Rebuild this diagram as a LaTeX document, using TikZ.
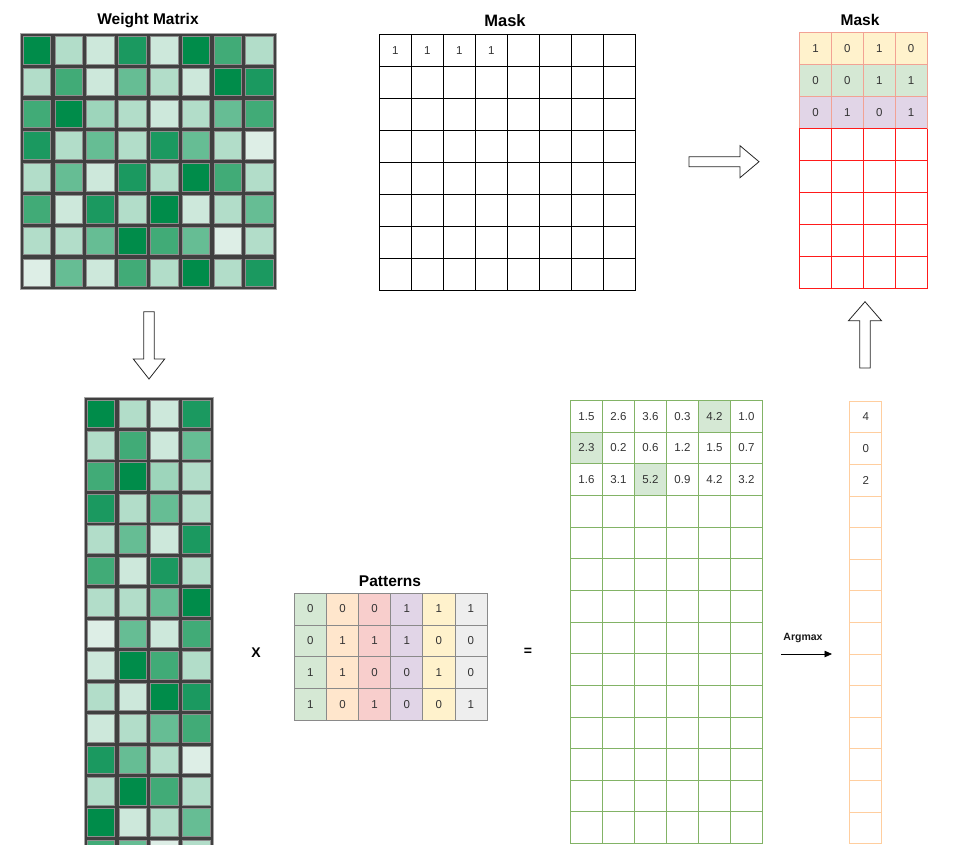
\documentclass[tikz,border=0pt]{standalone}
\usepackage{fontspec}
\setmainfont{Liberation Sans}
\usetikzlibrary{arrows.meta}
\definecolor{ga}{HTML}{008C4A}
\definecolor{gb}{HTML}{1B9960}
\definecolor{gc}{HTML}{41AB77}
\definecolor{gd}{HTML}{66BD94}
\definecolor{ge}{HTML}{9DD5BB}
\definecolor{gf}{HTML}{B2DDC9}
\definecolor{gg}{HTML}{CDE8DB}
\definecolor{gh}{HTML}{DDEEE6}
\definecolor{wdark}{HTML}{404040}
\definecolor{wedge}{HTML}{8E8E8E}
\definecolor{txt}{HTML}{333333}
\definecolor{mky}{HTML}{FFF2CC}
\definecolor{mkg}{HTML}{D5E8D4}
\definecolor{mkp}{HTML}{E1D5E7}
\definecolor{mkline}{HTML}{F2A294}
\definecolor{mkred}{HTML}{FF1A1A}
\definecolor{grline}{HTML}{82B366}
\definecolor{hl}{HTML}{D5E8D4}
\definecolor{orline}{HTML}{FFCE9F}
\definecolor{pline}{HTML}{8A8A8A}
\definecolor{pc0}{HTML}{D5E8D4}
\definecolor{pc1}{HTML}{FFE6CC}
\definecolor{pc2}{HTML}{F8CECC}
\definecolor{pc3}{HTML}{E1D5E7}
\definecolor{pc4}{HTML}{FFF2CC}
\definecolor{pc5}{HTML}{EEEEEE}
\begin{document}
\begin{tikzpicture}[x=1pt,y=-1pt,
  every node/.style={font={\fontsize{11.5}{13}\selectfont}, text=txt},
  titlelbl/.style={font={\fontsize{15.5}{18}\selectfont\bfseries}, text=black},
  wcell/.style={draw=wedge, line width=0.7pt, inner sep=0, minimum size=27.6pt},
  mcell/.style={draw=black, line width=0.7pt, inner sep=0, minimum width=32pt, minimum height=32pt, anchor=north west},
  rcell/.style={draw=mkline, line width=0.8pt, inner sep=0, minimum width=31.8pt, minimum height=32pt, anchor=north west},
  rcellr/.style={draw=mkred, line width=0.8pt, inner sep=0, minimum width=31.8pt, minimum height=32pt, anchor=north west},
  pcell/.style={draw=pline, line width=0.7pt, inner sep=0, minimum width=32.1pt, minimum height=31.8pt, anchor=north west},
  gcell/.style={draw=grline, line width=0.9pt, inner sep=0, minimum width=32pt, minimum height=31.65pt, anchor=north west},
  ocell/.style={draw=orline, line width=0.9pt, inner sep=0, minimum width=32pt, minimum height=31.6pt, anchor=north west},
  blockarrow/.style={draw=black!85, line width=0.8pt, fill=white, line join=miter},
]
\useasboundingbox (0,0) rectangle (965,844);
\clip (0,0) rectangle (965,844);

% ---------------- Weight matrix ----------------
\node[titlelbl] (wtitle) at (148,21) {Weight Matrix};
\fill[wdark] (20.5,33.8) rectangle ++(255.4,255.4);
\draw[black!35, line width=0.5pt] (20.2,33.5) rectangle ++(256,256);
\foreach \row [count=\i from 0] in {{a,f,g,b,g,a,c,f},{f,c,g,d,f,g,a,b},{c,a,e,f,g,f,d,c},{b,f,d,f,b,d,f,h},{f,d,g,b,f,a,c,f},{c,g,b,f,a,g,f,d},{f,f,d,a,c,d,h,f},{h,d,g,c,f,a,f,b}}{
  \foreach \c [count=\j from 0] in \row {
    \node[wcell, fill=g\c] (w-\i-\j) at ({21+31.8*\j+15.9},{34.3+31.8*\i+15.9}) {};
  }
}

% ---------------- Down arrow ----------------
\draw[blockarrow] (143.8,311.7) -- (154.2,311.7) -- (154.2,359) -- (164.7,359) -- (149,379) -- (133.3,359) -- (143.8,359) -- cycle;

% ---------------- Tall matrix ----------------
\fill[wdark] (84.5,397.5) rectangle ++(128,503);
\draw[black!35, line width=0.5pt] (84.2,397.2) rectangle ++(128.6,504);
\foreach \row [count=\i from 0] in {{a,f,g,b},{f,c,g,d},{c,a,e,f},{b,f,d,f},{f,d,g,b},{c,g,b,f},{f,f,d,a},{h,d,g,c},{g,a,c,f},{f,g,a,b},{g,f,d,c},{b,d,f,h},{f,a,c,f},{a,g,f,d},{c,d,h,f},{f,a,f,b}}{
  \foreach \c [count=\j from 0] in \row {
    \node[wcell, fill=g\c] (t-\i-\j) at ({85+31.8*\j+15.9},{398+31.45*\i+15.7}) {};
  }
}

% ---------------- Top mask ----------------
\node[titlelbl, font={\fontsize{16.5}{19}\selectfont\bfseries}] (mtitle) at (505,21) {Mask};
\foreach \i in {0,...,7}{
  \foreach \j in {0,...,7}{
    \node[mcell] (tm-\i-\j) at ({379+32*\j},{34+32*\i}) {\ifnum\i=0 \ifnum\j<4 1\fi\fi};
  }
}

% ---------------- Right arrow ----------------
\draw[blockarrow] (689,156.7) -- (740,156.7) -- (740,145.7) -- (759,161.7) -- (740,177.7) -- (740,166.7) -- (689,166.7) -- cycle;

% ---------------- Right mask ----------------
\node[titlelbl] (rtitle) at (860,20) {Mask};
\foreach \i in {3,...,7}{
  \foreach \j in {0,...,3}{
    \node[rcellr] (rm-\i-\j) at ({799.3+31.8*\j},{32.3+32*\i}) {};
  }
}
\foreach \v [count=\j from 0] in {1,0,1,0}
  \node[rcell, fill=mky] (rm-0-\j) at ({799.3+31.8*\j},32.3) {\v};
\foreach \v [count=\j from 0] in {0,0,1,1}
  \node[rcell, fill=mkg] (rm-1-\j) at ({799.3+31.8*\j},64.3) {\v};
\foreach \v [count=\j from 0] in {0,1,0,1}
  \node[rcell, fill=mkp] (rm-2-\j) at ({799.3+31.8*\j},96.3) {\v};
\draw[mkred, line width=0.8pt] (799.3,128.3) -- (926.5,128.3);

% ---------------- Up arrow ----------------
\draw[blockarrow] (859.8,368) -- (870.2,368) -- (870.2,320.7) -- (881.5,320.7) -- (865,301.7) -- (848.5,320.7) -- (859.8,320.7) -- cycle;

% ---------------- Patterns ----------------
\node[titlelbl] (ptitle) at (390,581) {Patterns};
\foreach \row [count=\i from 0] in {{0,0,0,1,1,1},{0,1,1,1,0,0},{1,1,0,0,1,0},{1,0,1,0,0,1}}{
  \foreach \v [count=\j from 0] in \row {
    \node[pcell, fill=pc\j] (p-\i-\j) at ({294+32.1*\j},{592.7+31.8*\i}) {\v};
  }
}

\node[font={\fontsize{14}{16}\selectfont\bfseries}, text=black] (times) at (256,653) {X};
\node[font={\fontsize{14}{16}\selectfont\bfseries}, text=black] (equals) at (528,652) {=};

% ---------------- Green result matrix ----------------
\foreach \i/\j in {0/4,1/0,2/2}
  \fill[hl] ({570+32*\j},{400+31.65*\i}) rectangle ++(32,31.65);
\foreach \row [count=\i from 0] in {{1.5,2.6,3.6,0.3,4.2,1.0},{2.3,0.2,0.6,1.2,1.5,0.7},{1.6,3.1,5.2,0.9,4.2,3.2}}{
  \foreach \v [count=\j from 0] in \row {
    \node[gcell] (g-\i-\j) at ({570+32*\j},{400+31.65*\i}) {\v};
  }
}
\foreach \i in {3,...,13}{
  \foreach \j in {0,...,5}{
    \node[gcell] (g-\i-\j) at ({570+32*\j},{400+31.65*\i}) {};
  }
}

% ---------------- Argmax ----------------
\node[font={\fontsize{10.5}{13}\selectfont\bfseries}, text=black!90] (amlbl) at (803,638) {Argmax};
\coordinate (am-s) at (781,654);
\coordinate (am-e) at (832,654);
\draw[black, line width=0.8pt, -{Triangle[length=7.5pt,width=6.5pt]}] (am-s) -- (am-e);

\foreach \v [count=\i from 0] in {4,0,2,{},{},{},{},{},{},{},{},{},{},{}}{
  \node[ocell] (a-\i) at (849.3,{400.7+31.6*\i}) {\v};
}
\end{tikzpicture}
\end{document}
